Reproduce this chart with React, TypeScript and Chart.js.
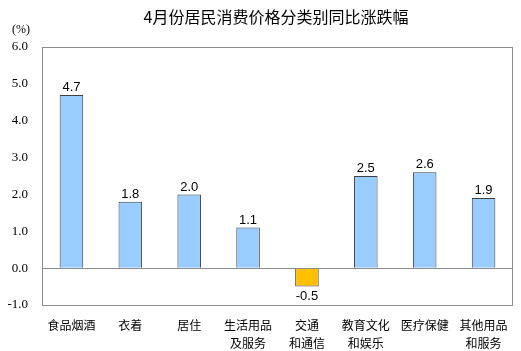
import React, { useEffect, useRef } from "react";
import { Chart, registerables } from "chart.js";

Chart.register(...registerables);

const categories: (string | string[])[] = [
  "食品烟酒",
  "衣着",
  "居住",
  ["生活用品", "及服务"],
  ["交通", "和通信"],
  ["教育文化", "和娱乐"],
  "医疗保健",
  ["其他用品", "和服务"],
];
const values: number[] = [4.7, 1.8, 2.0, 1.1, -0.5, 2.5, 2.6, 1.9];
const yTicks: number[] = [-1, 0, 1, 2, 3, 4, 5, 6];
const title = "4月份居民消费价格分类别同比涨跌幅";
const unitLabel = "(%)";

const posColor = "#99CCFF";
const negColor = "#FFC000";

const overlay = {
  id: "overlay",
  afterDatasetsDraw(chart: any) {
    const { ctx, chartArea } = chart;
    ctx.save();
    // box
    ctx.strokeStyle = "#8c8c8c";
    ctx.lineWidth = 1;
    ctx.strokeRect(
      Math.round(chartArea.left) + 0.5,
      Math.round(chartArea.top) + 0.5,
      Math.round(chartArea.right - chartArea.left) - 1,
      Math.round(chartArea.bottom - chartArea.top)
    );
    // data labels
    const meta = chart.getDatasetMeta(0);
    ctx.fillStyle = "#000";
    ctx.font = "13px 'Liberation Sans', Arial, sans-serif";
    ctx.textAlign = "center";
    meta.data.forEach((bar: any, i: number) => {
      const v = values[i];
      const txt = v.toFixed(1);
      if (v >= 0) {
        ctx.textBaseline = "bottom";
        ctx.fillText(txt, bar.x, bar.y - 1);
      } else {
        ctx.textBaseline = "top";
        ctx.fillText(txt, bar.x, bar.y + 3);
      }
    });
    // title
    ctx.font = "16px 'Noto Sans CJK SC', sans-serif";
    ctx.textBaseline = "middle";
    ctx.textAlign = "center";
    ctx.fillText(title, 276, 17);
    // unit
    ctx.font = "12px 'Liberation Serif', 'Times New Roman', serif";
    ctx.textAlign = "left";
    ctx.fillText(unitLabel, 12, 30);
    ctx.restore();
  },
};

export default function App() {
  const ref = useRef<HTMLCanvasElement>(null);
  useEffect(() => {
    document.body.style.margin = "0";
    const chart = new Chart(ref.current!, {
      type: "bar",
      data: {
        labels: categories,
        datasets: [
          {
            data: values,
            backgroundColor: values.map((v) => (v >= 0 ? posColor : negColor)),
            borderColor: "#404040",
            borderWidth: 1,
            categoryPercentage: 1,
            barPercentage: 0.4,
          },
        ],
      },
      options: {
        animation: false,
        responsive: false,
        maintainAspectRatio: false,
        layout: { padding: { top: 47, right: 8, left: 0, bottom: 0 } },
        plugins: {
          legend: { display: false },
          tooltip: { enabled: false },
          title: { display: false },
        },
        scales: {
          x: {
            grid: { display: false },
            border: { display: false },
            ticks: {
              color: "#000",
              font: { family: "'Noto Sans CJK SC', sans-serif", size: 12, lineHeight: 1.5 },
              padding: 3,
              maxRotation: 0,
              autoSkip: false,
            },
            afterFit(scale: any) {
              scale.height = 46;
            },
          },
          y: {
            min: -1,
            max: 6,
            afterBuildTicks(scale: any) {
              scale.ticks = yTicks.map((v) => ({ value: v }));
            },
            grid: {
              drawTicks: false,
              color: (c: any) => (c.tick && c.tick.value === 0 ? "#8c8c8c" : "rgba(0,0,0,0)"),
            },
            border: { display: false },
            ticks: {
              color: "#000",
              font: { family: "'Liberation Serif', 'Times New Roman', serif", size: 13 },
              padding: 14,
              callback: (v: any) => Number(v).toFixed(1),
            },
            afterFit(scale: any) {
              scale.width = 42;
            },
          },
        },
      },
      plugins: [overlay],
    });
    return () => chart.destroy();
  }, []);
  return <canvas ref={ref} width={521} height={351} style={{ display: "block" }} />;
}
